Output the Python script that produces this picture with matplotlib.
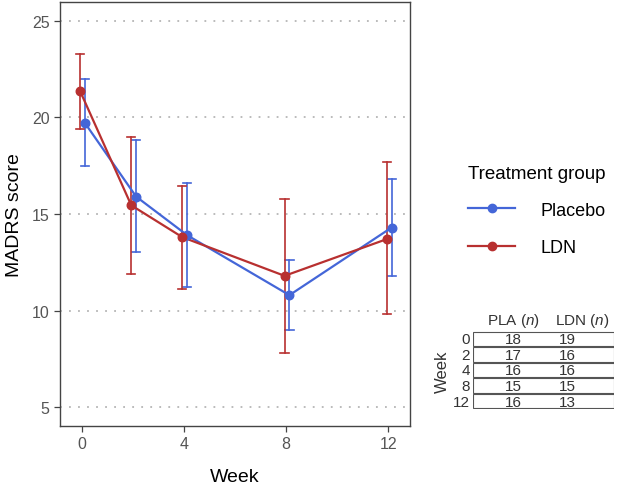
import matplotlib
matplotlib.use("Agg")
import matplotlib.pyplot as plt
from matplotlib.lines import Line2D
from matplotlib.patches import Rectangle

plt.rcParams["font.family"] = ["Liberation Sans", "DejaVu Sans"]
plt.rcParams["mathtext.fontset"] = "custom"
plt.rcParams["mathtext.it"] = "Liberation Sans:italic"
plt.rcParams["mathtext.rm"] = "Liberation Sans"

weeks = [0, 2, 4, 8, 12]
placebo_mean = [19.7, 15.9, 13.9, 10.8, 14.3]
placebo_lo = [17.5, 13.05, 11.2, 9.0, 11.8]
placebo_hi = [22.0, 18.85, 16.6, 12.6, 16.8]
ldn_mean = [21.35, 15.45, 13.8, 11.8, 13.7]
ldn_lo = [19.4, 11.9, 11.1, 7.8, 9.8]
ldn_hi = [23.3, 19.0, 16.45, 15.8, 17.7]
table_weeks = ["0", "2", "4", "8", "12"]
pla_n = [18, 17, 16, 15, 16]
ldn_n = [19, 16, 16, 15, 13]

blue = "#4466D8"
red = "#B83030"
W, H = 617, 489
fig = plt.figure(figsize=(W / 100, H / 100), dpi=100)
ax = fig.add_axes([60 / W, 1 - 427 / H, 350 / W, 424 / H])

def draw(means, lo, hi, off, color):
    xs = [w + off for w in weeks]
    ax.plot(xs, means, color=color, lw=1.6, zorder=3)
    ax.scatter(xs, means, color=color, s=38, zorder=4)
    for x, l, h in zip(xs, lo, hi):
        ax.plot([x, x], [l, h], color=color, lw=1.2, zorder=2)
        ax.plot([x - 0.16, x + 0.16], [l, l], color=color, lw=1.2, zorder=2)
        ax.plot([x - 0.16, x + 0.16], [h, h], color=color, lw=1.2, zorder=2)

draw(placebo_mean, placebo_lo, placebo_hi, 0.13, blue)
draw(ldn_mean, ldn_lo, ldn_hi, -0.06, red)

ax.set_xlim(-0.85, 12.85)
ax.set_ylim(4.03, 25.97)
ax.set_xticks([0, 4, 8, 12])
ax.set_yticks([5, 10, 15, 20, 25])
for y in [5, 10, 15, 20, 25]:
    ax.axhline(y, color="#B5B5B5", lw=1.3, ls=(0, (1, 4)), zorder=1)
for s in ax.spines.values():
    s.set_color("#444444")
    s.set_linewidth(1.0)
ax.tick_params(axis="both", colors="#444444", labelcolor="#555555", labelsize=11.5, length=4, width=0.9)
ax.set_xlabel("Week", fontsize=14, labelpad=12)
ax.set_ylabel("MADRS score", fontsize=14, labelpad=6)

# legend
handles = [Line2D([], [], color=blue, lw=1.6, marker="o", ms=6),
           Line2D([], [], color=red, lw=1.6, marker="o", ms=6)]
leg = fig.legend(handles, ["Placebo", "LDN"], title="Treatment group",
                 loc="upper left", bbox_to_anchor=(452 / W, 1 - 150 / H),
                 frameon=False, fontsize=13, title_fontsize=13.5,
                 handlelength=2.6, handletextpad=1.4, labelspacing=1.15)
leg._legend_box.align = "left"
leg._legend_box.sep = 14

# table
tax = fig.add_axes([473 / W, 1 - 410 / H, 141 / W, 78 / H])
tax.set_xlim(0, 141)
tax.set_ylim(len(table_weeks), 0)
tax.axis("off")
for i, (wk, a, b) in enumerate(zip(table_weeks, pla_n, ldn_n)):
    tax.add_patch(Rectangle((0, i + 0.04), 141, 0.92, fill=False, ec="#555555", lw=0.8))
    tax.text(40, i + 0.52, str(a), ha="center", va="center", fontsize=11, color="#333333")
    tax.text(94, i + 0.52, str(b), ha="center", va="center", fontsize=11, color="#333333")
    tax.text(-3, i + 0.52, wk, ha="right", va="center", fontsize=11, color="#333333", clip_on=False)
tax.text(40, -0.1, "PLA ($\\mathit{n}$)", ha="center", va="bottom", fontsize=11, color="#333333", clip_on=False)
tax.text(109, -0.1, "LDN ($\\mathit{n}$)", ha="center", va="bottom", fontsize=11, color="#333333", clip_on=False)
fig.text(442 / W, 1 - 372 / H, "Week", rotation=90, ha="center", va="center", fontsize=12, color="#333333")

fig.savefig("out.png", dpi=100)
